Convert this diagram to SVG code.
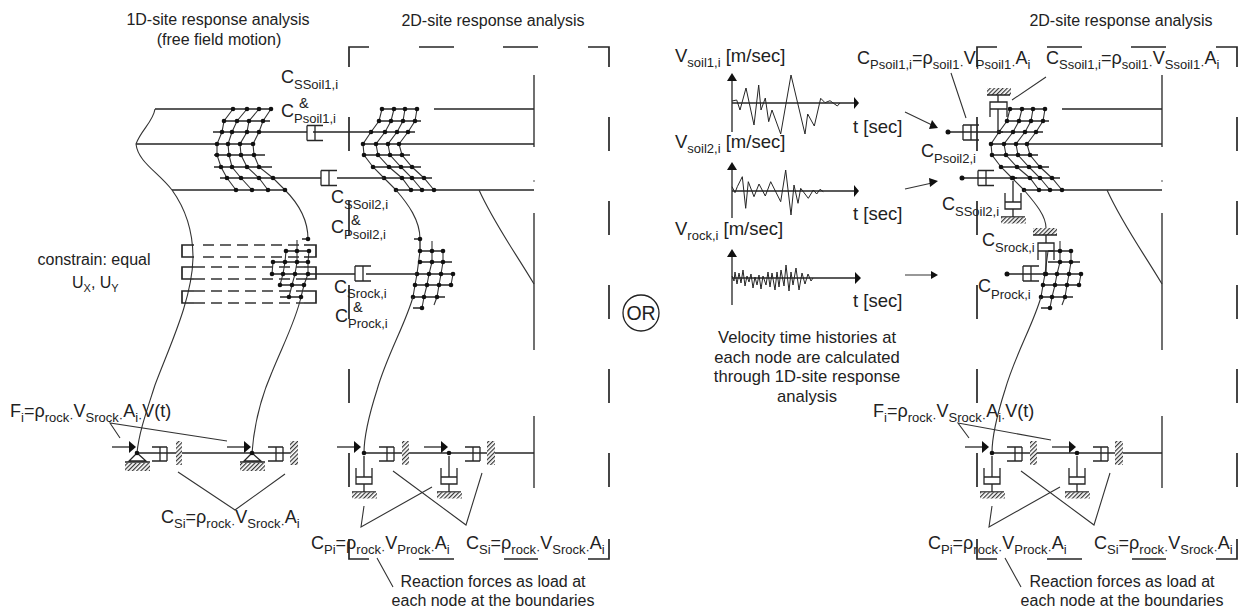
<svg xmlns="http://www.w3.org/2000/svg" xmlns:xlink="http://www.w3.org/1999/xlink" width="1244" height="609" viewBox="0 0 1244 609">
<style>
text{font-family:"Liberation Sans",Arial,sans-serif;fill:#222}
.t{font-size:16px}
.n{font-size:16.600px}
.m{text-anchor:middle}
.l{font-size:18px}
.v{font-size:18.500px}
.s{font-size:13px}
.a{font-size:14.500px}
.ln{fill:none;stroke:#262626;stroke-width:1.3}
.th{fill:none;stroke:#262626;stroke-width:1.700}
.tri{fill:#fff;stroke:#262626;stroke-width:1.300}
.thin{fill:none;stroke:#333;stroke-width:1.100}
.dash{fill:none;stroke:#333;stroke-width:1.400;stroke-dasharray:11 6}
.w{fill:none;stroke:#262626;stroke-width:1}
.h{fill:url(#hatch)}
.k{fill:#111}
</style>
<defs>
<pattern id="hatch" width="3" height="3" patternUnits="userSpaceOnUse" patternTransform="rotate(45)"><rect width="3" height="3" fill="#fff"/><rect width="1.200" height="3" fill="#333"/></pattern>
<g id="damper-r"><path class="ln" d="M0,-7.500H16M0,7.500H16M0,-7.500V7.500M8,-7.500V7.500"/></g>
<g id="damper-l"><path class="ln" d="M0,-7H15M0,7H15M15,-7V7M8,-7V7"/></g>
<g id="damper-v"><path class="ln" d="M-8,-8V8H8V-8M-8,1H8M0,-20V1M0,8V16M-12,16H12"/><rect class="h" x="-12" y="16.500" width="25" height="6"/></g>
<g id="arrow"><path class="ln" d="M-25,-6H-8"/><path class="k" d="M-8,-12L-1,-6L-8,0Z"/></g>
<g id="frame2d"><path class="th" d="M369,47H349V67M419,47H454M503,47H538M588,47H609V67M349,117V151M349,201V235M349,285V319M349,369V403M349,453V487M349,539V559H369M419,559H454M504,559H538M588,559H609V539M609,117V151M609,201V235M609,285V319M609,369V403M609,453V487"/></g>
<g id="boundary"><path class="ln" d="M534,75V147M534,213V350M534,416V488M434,109H534M399,144H534M434,190H534"/>
<path class="thin" d="M479,190C495,225 515,252 534,284"/><circle cx="534" cy="181" r=".7" class="k"/></g>
<g id="mesh2d"><path class="thin" d="M382,109L379,121L371,132L363,144L364,155L373,167L384,178L396,190M394,109L391,121L385,132L376,144L378,155L389,167L402,178L411,190M405,109L403,121L397,132L388,144L390,155L401,167L412,178L422,190M417,109L415,121L408,132L399,144L402,155L412,167L424,178L434,190"/>
<path class="ln" d="M382,109H417M379,121H421M371,132H415M363,144H399M364,155H410M373,167H421M384,178H432M396,190H434"/>
<g class="k"><circle cx="382" cy="109" r="2.300"/><circle cx="394" cy="109" r="2.300"/><circle cx="405" cy="109" r="2.300"/><circle cx="417" cy="109" r="2.300"/><circle cx="379" cy="121" r="2.300"/><circle cx="391" cy="121" r="2.300"/><circle cx="403" cy="121" r="2.300"/><circle cx="415" cy="121" r="2.300"/><circle cx="371" cy="132" r="2.300"/><circle cx="385" cy="132" r="2.300"/><circle cx="397" cy="132" r="2.300"/><circle cx="408" cy="132" r="2.300"/><circle cx="363" cy="144" r="2.300"/><circle cx="376" cy="144" r="2.300"/><circle cx="388" cy="144" r="2.300"/><circle cx="399" cy="144" r="2.300"/><circle cx="364" cy="155" r="2.300"/><circle cx="378" cy="155" r="2.300"/><circle cx="390" cy="155" r="2.300"/><circle cx="402" cy="155" r="2.300"/><circle cx="373" cy="167" r="2.300"/><circle cx="389" cy="167" r="2.300"/><circle cx="401" cy="167" r="2.300"/><circle cx="412" cy="167" r="2.300"/><circle cx="384" cy="178" r="2.300"/><circle cx="402" cy="178" r="2.300"/><circle cx="412" cy="178" r="2.300"/><circle cx="424" cy="178" r="2.300"/><circle cx="396" cy="190" r="2.300"/><circle cx="411" cy="190" r="2.300"/><circle cx="422" cy="190" r="2.300"/><circle cx="434" cy="190" r="2.300"/></g></g>
<g id="rock2d"><path class="thin" d="M420,251L417,274L415,285L413,297M432,241L432,262L429,274L427,285L424,297L422,308M443,251L443,262L441,274L439,285L437,297L434,305M453,274L451,285"/>
<path class="ln" d="M420,251H443M420,262H452M417,274H453M415,285H451M413,297H445M413,308H422"/>
<g class="k"><circle cx="432" cy="251" r="2.300"/><circle cx="443" cy="251" r="2.300"/><circle cx="432" cy="262" r="2.300"/><circle cx="443" cy="262" r="2.300"/><circle cx="417" cy="274" r="2.300"/><circle cx="429" cy="274" r="2.300"/><circle cx="441" cy="274" r="2.300"/><circle cx="453" cy="274" r="2.300"/><circle cx="415" cy="285" r="2.300"/><circle cx="427" cy="285" r="2.300"/><circle cx="439" cy="285" r="2.300"/><circle cx="451" cy="285" r="2.300"/><circle cx="413" cy="297" r="2.300"/><circle cx="424" cy="297" r="2.300"/><circle cx="437" cy="297" r="2.300"/><circle cx="422" cy="308" r="2.300"/></g></g>
<g id="base2d"><path class="ln" d="M364,453H534"/>
<use xlink:href="#arrow" href="#arrow" x="362" y="453"/>
<use xlink:href="#arrow" href="#arrow" x="449" y="453"/>
<use xlink:href="#damper-l" href="#damper-l" x="379" y="454"/>
<use xlink:href="#damper-l" href="#damper-l" x="465" y="454"/>
<rect class="h" x="402" y="441" width="7" height="24"/><rect class="h" x="487" y="441" width="8" height="24"/>
<use xlink:href="#damper-v" href="#damper-v" x="364" y="476"/>
<use xlink:href="#damper-v" href="#damper-v" x="449" y="476"/>
<circle cx="364" cy="453" r="2.300" class="k"/><circle cx="449" cy="453" r="2.300" class="k"/>
<path class="thin" d="M364,506L361,527L432,487M393,471L466,525L482,473M377,558L393,587"/></g>
</defs>

<g id="connectors">
<use id="frame-left" xlink:href="#frame2d" href="#frame2d"/>
<use id="frame-right" xlink:href="#frame2d" href="#frame2d" x="628"/>
<use xlink:href="#boundary" href="#boundary"/>
<use xlink:href="#boundary" href="#boundary" x="628"/>
</g>

<g id="oned-model">
<path class="ln" d="M155,109H271M136,144H253M172,190H285"/>
<path class="thin" d="M155,109C153,122 141,130 136,144C138,162 158,172 172,190C185,208 193,232 193,258C192,300 170,345 155,385C147,410 139,432 137,453M285,190C298,203 308,220 308,239M301,297C296,320 283,345 272,372C262,395 254,425 252,453"/>
<path class="thin" d="M233,109L224,121L222,132L217,144L217,155L221,167L227,178L236,190M247,109L237,121L232,132L228,144L229,155L232,167L241,178L252,190M259,109L249,121L247,132L240,144L241,155L247,167L259,178L268,190M271,109L263,121L259,132L253,144L254,155L259,167L273,178L285,190"/>
<path class="ln" d="M224,121H270M213,132H307M214,155H265M214,167H272M220,178H321"/>
<g class="k"><circle cx="233" cy="109" r="2.300"/><circle cx="247" cy="109" r="2.300"/><circle cx="259" cy="109" r="2.300"/><circle cx="271" cy="109" r="2.300"/><circle cx="224" cy="121" r="2.300"/><circle cx="237" cy="121" r="2.300"/><circle cx="249" cy="121" r="2.300"/><circle cx="263" cy="121" r="2.300"/><circle cx="222" cy="132" r="2.300"/><circle cx="232" cy="132" r="2.300"/><circle cx="247" cy="132" r="2.300"/><circle cx="259" cy="132" r="2.300"/><circle cx="217" cy="144" r="2.300"/><circle cx="228" cy="144" r="2.300"/><circle cx="240" cy="144" r="2.300"/><circle cx="253" cy="144" r="2.300"/><circle cx="217" cy="155" r="2.300"/><circle cx="229" cy="155" r="2.300"/><circle cx="241" cy="155" r="2.300"/><circle cx="254" cy="155" r="2.300"/><circle cx="221" cy="167" r="2.300"/><circle cx="232" cy="167" r="2.300"/><circle cx="247" cy="167" r="2.300"/><circle cx="259" cy="167" r="2.300"/><circle cx="227" cy="178" r="2.300"/><circle cx="241" cy="178" r="2.300"/><circle cx="259" cy="178" r="2.300"/><circle cx="273" cy="178" r="2.300"/><circle cx="236" cy="190" r="2.300"/><circle cx="252" cy="190" r="2.300"/><circle cx="268" cy="190" r="2.300"/><circle cx="285" cy="190" r="2.300"/></g>
<path class="thin" d="M286,251L285,262L283,274L280,285M297,240V251L297,262L295,274L292,285L289,297M309,251L308,262L308,274L304,285L301,297M273,262L272,274"/>
<path class="ln" d="M284,251H309M273,262H308M270,274H355M278,285H304M280,297H303M302,239H308"/>
<g class="k"><circle cx="308" cy="239" r="2.300"/><circle cx="286" cy="251" r="2.300"/><circle cx="297" cy="251" r="2.300"/><circle cx="309" cy="251" r="2.300"/><circle cx="273" cy="262" r="2.300"/><circle cx="285" cy="262" r="2.300"/><circle cx="297" cy="262" r="2.300"/><circle cx="308" cy="262" r="2.300"/><circle cx="272" cy="274" r="2.300"/><circle cx="283" cy="274" r="2.300"/><circle cx="295" cy="274" r="2.300"/><circle cx="308" cy="274" r="2.300"/><circle cx="280" cy="285" r="2.300"/><circle cx="292" cy="285" r="2.300"/><circle cx="304" cy="285" r="2.300"/><circle cx="289" cy="297" r="2.300"/><circle cx="301" cy="297" r="2.300"/></g>
<path class="th" d="M194,245H182V257H194M194,267H182V279H194M194,291H182V303H194M304,245H316V257H304M304,267H316V279H304M304,291H316V303H304"/>
<path class="dash" d="M203,245H304M203,257H304M194,267H304M194,279H304M194,291H304M194,303H304"/>
</g>

<g id="oned-base">
<path class="ln" d="M137,453H290"/>
<path class="tri" d="M137,453L129,461H146ZM252,453L244,461H261Z"/>
<use xlink:href="#arrow" href="#arrow" x="137" y="453"/>
<use xlink:href="#arrow" href="#arrow" x="252" y="453"/>
<use xlink:href="#damper-l" href="#damper-l" x="152" y="454"/>
<use xlink:href="#damper-l" href="#damper-l" x="268" y="454"/>
<rect class="h" x="176" y="441" width="6" height="24"/><rect class="h" x="290" y="441" width="8" height="24"/>
<path class="ln" d="M125,462H150M240,462H265"/>
<rect class="h" x="125" y="463" width="25" height="8"/><rect class="h" x="240" y="463" width="25" height="8"/>
<circle cx="137" cy="453" r="2.300" class="k"/><circle cx="252" cy="453" r="2.300" class="k"/>
<path class="thin" d="M120,438L110,423L227,441M178,472L235,510L285,474"/>
</g>

<g id="twod-model">
<use xlink:href="#mesh2d" href="#mesh2d"/>
<use xlink:href="#rock2d" href="#rock2d"/>
<path class="thin" d="M396,190C408,204 420,220 420,239M413,297C405,325 387,355 377,390C369,415 364,435 364,453"/>
<path class="ln" d="M313,132H371M337,178H384M366,274H417M414,239H420V251"/>
<circle cx="420" cy="239" r="2.300" class="k"/><circle cx="420" cy="251" r="2.300" class="k"/><circle cx="420" cy="262" r="2.300" class="k"/>
<use xlink:href="#damper-r" href="#damper-r" x="307" y="133"/>
<use xlink:href="#damper-r" href="#damper-r" x="321" y="178"/>
<use xlink:href="#damper-r" href="#damper-r" x="355" y="273.500"/>
<use xlink:href="#base2d" href="#base2d"/>
</g>

<g id="twod-model-right">
<use xlink:href="#mesh2d" href="#mesh2d" x="628"/>
<use xlink:href="#rock2d" href="#rock2d" x="628"/>
<path class="thin" d="M1024,190C1036,204 1046,216 1046,228M1041,297C1033,325 1015,355 1005,390C997,415 992,435 992,453"/>
<path class="ln" d="M948,132H1003M962,178H1017M1007,274H1046"/>
<circle cx="948" cy="132" r="2.500" class="k"/><circle cx="962" cy="178" r="2.500" class="k"/><circle cx="1007" cy="274" r="2.500" class="k"/>
<use xlink:href="#damper-r" href="#damper-r" x="963" y="132.500"/>
<use xlink:href="#damper-r" href="#damper-r" x="978" y="178"/>
<use xlink:href="#damper-r" href="#damper-r" x="1023" y="273.500"/>
<rect class="h" x="987" y="88" width="24" height="7"/>
<path class="ln" d="M987,95H1010M998,95V102M990,117V102H1007V117M990,109H1007M998,109V132"/>
<use xlink:href="#damper-v" href="#damper-v" x="1013" y="201"/>
<rect class="h" x="1033" y="228" width="24" height="7"/>
<path class="ln" d="M1033,235H1057M1046,235V243M1038,260V243H1054V260M1038,251H1054M1046,251V274"/>
<circle cx="1013" cy="178" r="2.300" class="k"/><circle cx="1046" cy="274" r="2.300" class="k"/>
<use xlink:href="#base2d" href="#base2d" x="628"/>
<path class="thin" d="M969,438L958,423L1051,440M951,73L966,118M1046,77L1012,100"/>
</g>

<g id="velocity-histories">
<path class="ln" d="M732,79V132M732,103H854M732,167V218M732,191H854M732,255V305M732,278H856"/>
<path class="k" d="M732,73L737,81H727ZM859,103L854,97V109ZM732,162L737,170H727ZM859,191L854,185V197ZM732,249L737,257H727ZM861,278L855,272V284Z"/>
<polyline class="w" points="732,101 736.700,100 740,110 746,88 754,125 758.700,85 761,110 765.300,98 768.700,121.700 772,110 780.700,134 791,75 805,134 807.700,114 814.300,126 820.700,98.300 825,102.700 830,100.700 837.300,106 840,103"/>
<polyline class="w" points="732,186.700 735,192.700 737.300,186.700 742.300,176.700 745.700,208.300 748.300,181.700 754,196.700 759,184 765.300,196 770.700,181.700 780.700,201.700 785.700,170 791,215 794,185 798,203.300 800.700,188.300 808.300,198.300 813.300,190 816.700,194 820,189.300 823.300,191.700"/>
<polyline class="w" points="732,276 734,281 735,272 737,284 739,273 741,283 743,270 745,286 747,276 749,282 751,274 753,288 755,277 757,285 759,275 761,289 763,276 766,285 768,272 770,287 772,273 775,290 777,272 779,287 781,270 784,286 786,265 789,291 791,272 793,285 796,268 799,290 802,273 805,284 808,274 811,281 813,278"/>
<path class="thin" d="M905,112L932,125M905,189L932,183M905,275H931"/>
<path class="k" d="M938,128L929,129L932,120ZM938,181L930,187L929,178ZM938,275L931,271V279Z"/>
</g>

<g id="or-node"><circle cx="641" cy="313" r="18" fill="#fff" stroke="#222" stroke-width="1.300"/><text x="641" y="320" class="m" style="font-size:19.500px">OR</text></g>

<g id="labels">
<text x="218" y="25" class="t m">1D-site response analysis</text>
<text x="219" y="45" class="t m">(free field motion)</text>
<text x="493" y="26" class="t m">2D-site response analysis</text>
<text x="1121" y="26" class="t m">2D-site response analysis</text>
<text x="94" y="265" class="m" style="font-size:16px">constrain: equal</text>
<text x="72" y="288" style="font-size:16px">U<tspan style="font-size:11px" dy="4">X</tspan><tspan dy="-4">, U</tspan><tspan style="font-size:11px" dy="4">Y</tspan></text>

<text x="281" y="83" class="l">C<tspan class="s" dy="6">SSoil1,i</tspan></text>
<text x="299" y="108" class="a">&amp;</text>
<text x="281" y="117" class="l">C<tspan class="s" dy="6">Psoil1,i</tspan></text>
<text x="331" y="203" class="l">C<tspan class="s" dy="6">SSoil2,i</tspan></text>
<text x="351" y="225" class="a">&amp;</text>
<text x="331" y="233" class="l">C<tspan class="s" dy="6">Psoil2,i</tspan></text>
<text x="334" y="293" class="l">C<tspan class="s" dy="5">Srock,i</tspan></text>
<text x="353" y="312" class="a">&amp;</text>
<text x="335" y="322" class="l">C<tspan class="s" dy="6">Prock,i</tspan></text>

<text x="10" y="417" class="l">F<tspan class="s" dy="5">i</tspan><tspan dy="-5">=ρ</tspan><tspan class="s" dy="5">rock·</tspan><tspan dy="-5">V</tspan><tspan class="s" dy="5">Srock·</tspan><tspan dy="-5">A</tspan><tspan class="s" dy="5">i·</tspan><tspan dy="-5">V(t)</tspan></text>
<text x="873" y="417" class="l">F<tspan class="s" dy="5">i</tspan><tspan dy="-5">=ρ</tspan><tspan class="s" dy="5">rock·</tspan><tspan dy="-5">V</tspan><tspan class="s" dy="5">Srock·</tspan><tspan dy="-5">A</tspan><tspan class="s" dy="5">i·</tspan><tspan dy="-5">V(t)</tspan></text>
<text x="161" y="523" class="l">C<tspan class="s" dy="5">Si</tspan><tspan dy="-5">=ρ</tspan><tspan class="s" dy="5">rock·</tspan><tspan dy="-5">V</tspan><tspan class="s" dy="5">Srock·</tspan><tspan dy="-5">A</tspan><tspan class="s" dy="5">i</tspan></text>
<text x="311" y="549" class="l">C<tspan class="s" dy="5">Pi</tspan><tspan dy="-5">=ρ</tspan><tspan class="s" dy="5">rock·</tspan><tspan dy="-5">V</tspan><tspan class="s" dy="5">Prock·</tspan><tspan dy="-5">A</tspan><tspan class="s" dy="5">i</tspan></text>
<text x="466" y="549" class="l">C<tspan class="s" dy="5">Si</tspan><tspan dy="-5">=ρ</tspan><tspan class="s" dy="5">rock·</tspan><tspan dy="-5">V</tspan><tspan class="s" dy="5">Srock·</tspan><tspan dy="-5">A</tspan><tspan class="s" dy="5">i</tspan></text>
<text x="928" y="549" class="l">C<tspan class="s" dy="5">Pi</tspan><tspan dy="-5">=ρ</tspan><tspan class="s" dy="5">rock·</tspan><tspan dy="-5">V</tspan><tspan class="s" dy="5">Prock·</tspan><tspan dy="-5">A</tspan><tspan class="s" dy="5">i</tspan></text>
<text x="1094" y="549" class="l">C<tspan class="s" dy="5">Si</tspan><tspan dy="-5">=ρ</tspan><tspan class="s" dy="5">rock·</tspan><tspan dy="-5">V</tspan><tspan class="s" dy="5">Srock·</tspan><tspan dy="-5">A</tspan><tspan class="s" dy="5">i</tspan></text>
<text x="493" y="587" class="t m">Reaction forces as load at</text>
<text x="493" y="606" class="t m">each node at the boundaries</text>
<text x="1122" y="587" class="t m">Reaction forces as load at</text>
<text x="1122" y="606" class="t m">each node at the boundaries</text>

<text x="675" y="62" class="v">V<tspan class="s" dy="5">soil1,i</tspan><tspan dy="-5"> [m/sec]</tspan></text>
<text x="675" y="148" class="v">V<tspan class="s" dy="5">soil2,i</tspan><tspan dy="-5"> [m/sec]</tspan></text>
<text x="675" y="235" class="v">V<tspan class="s" dy="5">rock,i</tspan><tspan dy="-5"> [m/sec]</tspan></text>
<text x="853" y="133" class="v">t [sec]</text>
<text x="853" y="220" class="v">t [sec]</text>
<text x="853" y="307" class="v">t [sec]</text>
<text x="807" y="343" class="n m">Velocity time histories at</text>
<text x="807" y="363" class="n m">each node are calculated</text>
<text x="807" y="382" class="n m">through 1D-site response</text>
<text x="807" y="402" class="n m">analysis</text>

<text x="857" y="64" class="l">C<tspan class="s" dy="5">Psoil1,i</tspan><tspan dy="-5">=ρ</tspan><tspan class="s" dy="5">soil1·</tspan><tspan dy="-5">V</tspan><tspan class="s" dy="5">Psoil1·</tspan><tspan dy="-5">A</tspan><tspan class="s" dy="5">i</tspan></text>
<text x="1046" y="64" class="l">C<tspan class="s" dy="5">Ssoil1,i</tspan><tspan dy="-5">=ρ</tspan><tspan class="s" dy="5">soil1·</tspan><tspan dy="-5">V</tspan><tspan class="s" dy="5">Ssoil1·</tspan><tspan dy="-5">A</tspan><tspan class="s" dy="5">i</tspan></text>
<text x="921" y="157" class="l">C<tspan class="s" dy="6">Psoil2,i</tspan></text>
<text x="942" y="210" class="l">C<tspan class="s" dy="6">SSoil2,i</tspan></text>
<text x="982" y="246" class="l">C<tspan class="s" dy="6">Srock,i</tspan></text>
<text x="978" y="292" class="l">C<tspan class="s" dy="7">Prock,i</tspan></text>
</g>
</svg>
